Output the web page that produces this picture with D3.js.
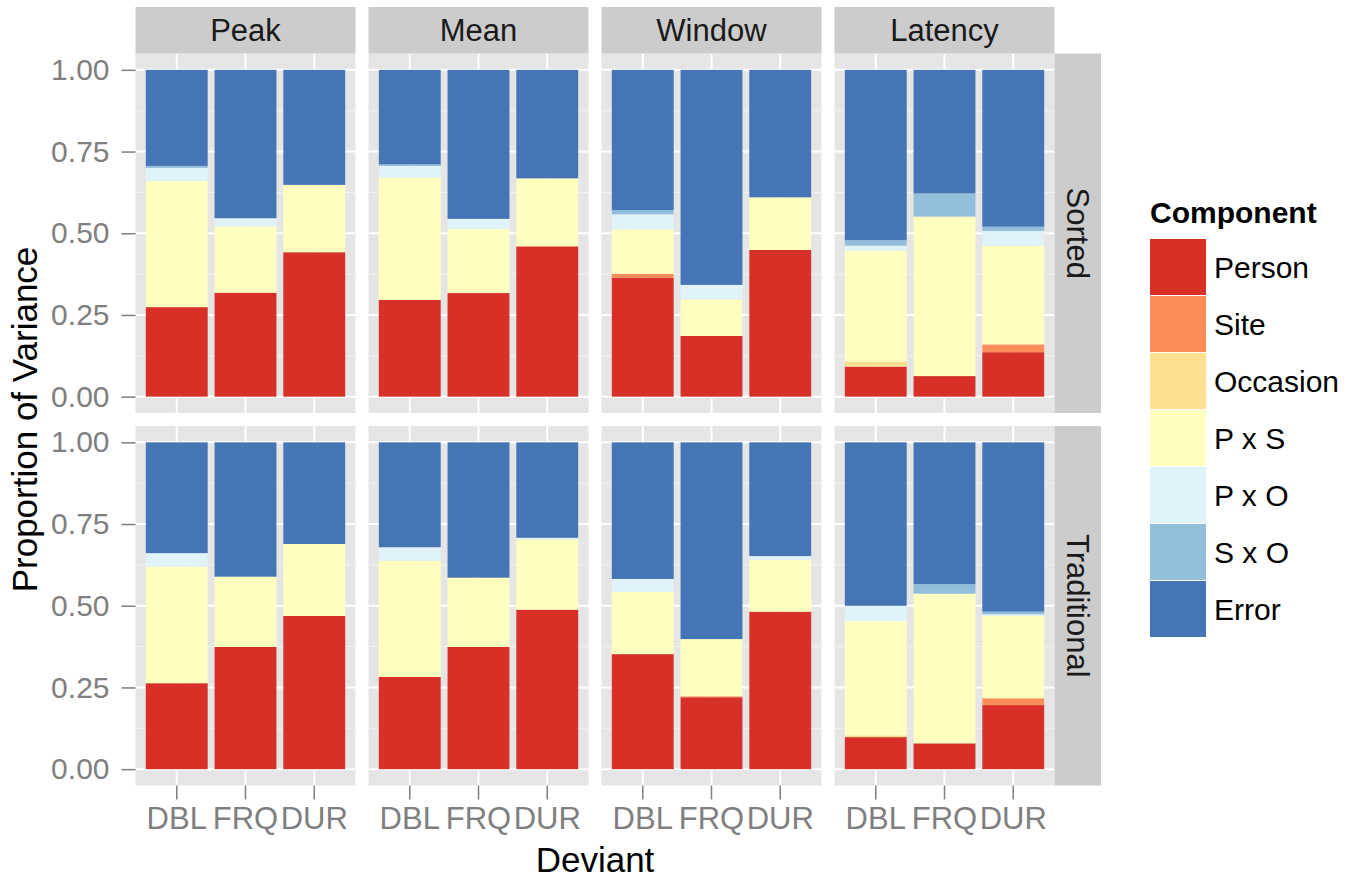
<!DOCTYPE html>
<html>
<head>
<meta charset="utf-8">
<script src="https://cdn.jsdelivr.net/npm/d3@7"></script>
<style>
  body { margin: 0; background: #fff; }
  svg text { font-family: "Liberation Sans", Arial, sans-serif; }
</style>
</head>
<body>
<svg class="chart" width="1360" height="880"></svg>
<script>
const measures = ['Peak', 'Mean', 'Window', 'Latency'];
const methods = ['Sorted', 'Traditional'];
const deviants = ['DBL', 'FRQ', 'DUR'];
const components = ['Person', 'Site', 'Occasion', 'P x S', 'P x O', 'S x O', 'Error'];
const palette = ['#d73027', '#fc8d59', '#fee090', '#ffffbf', '#e0f3f8', '#91bfdb', '#4575b4'];
const yTicks = [0, 0.25, 0.5, 0.75, 1];

// order: Sorted (Peak DBL FRQ DUR, Mean ..., Window ..., Latency ...), then Traditional
const person = [0.274, 0.318, 0.442, 0.296, 0.317, 0.460, 0.364, 0.186, 0.449, 0.092, 0.063, 0.136,
                0.263, 0.374, 0.469, 0.282, 0.374, 0.488, 0.352, 0.220, 0.482, 0.098, 0.079, 0.196];
const site = [0, 0, 0, 0, 0, 0, 0.012, 0, 0, 0, 0, 0.024,
              0, 0, 0, 0, 0, 0, 0, 0.003, 0, 0, 0, 0.021];
const occasion = [0, 0, 0, 0, 0, 0, 0, 0, 0, 0.015, 0, 0,
                  0, 0, 0, 0, 0, 0, 0, 0, 0, 0.005, 0, 0];
const pxs = [0.386, 0.203, 0.206, 0.374, 0.197, 0.208, 0.136, 0.112, 0.161, 0.339, 0.488, 0.302,
             0.357, 0.215, 0.220, 0.356, 0.212, 0.215, 0.190, 0.175, 0.158, 0.350, 0.458, 0.252];
const pxo = [0.040, 0.025, 0, 0.036, 0.030, 0, 0.046, 0.044, 0, 0.016, 0, 0.045,
             0.041, 0, 0, 0.041, 0, 0.005, 0.040, 0, 0.012, 0.047, 0, 0.005];
const sxo = [0.006, 0, 0, 0.005, 0, 0, 0.013, 0, 0, 0.017, 0.071, 0.013,
             0, 0, 0, 0, 0, 0, 0, 0, 0, 0, 0.029, 0.008];
const error = [0.294, 0.454, 0.352, 0.289, 0.456, 0.332, 0.429, 0.658, 0.390, 0.521, 0.378, 0.480,
               0.339, 0.411, 0.311, 0.321, 0.414, 0.292, 0.418, 0.602, 0.348, 0.500, 0.434, 0.518];

const series = [person, site, occasion, pxs, pxo, sxo, error];

const rows = [];
methods.forEach((method, mi) => {
    measures.forEach((measure, ki) => {
        deviants.forEach((dev, di) => {
            const idx = mi * 12 + ki * 3 + di;
            const row = {method: method, measure: measure, deviant: dev};
            components.forEach((c, ci) => { row[c] = series[ci][idx]; });
            rows.push(row);
        });
    });
});

const svg = d3.select('.chart');

const panelLeft = 135.5, panelW = 220, gapX = 13;
const panelTop = 53.5, panelH = 359.5, gapY = 13;
const stripH = 46.5, stripW = 46.5;

const color = d3.scaleOrdinal().domain(components).range(palette);
const stack = d3.stack().keys(components);

const x = d3.scaleBand()
    .domain(deviants)
    .range([0, panelW])
    .paddingInner(0.1)
    .paddingOuter(0.15);

const y = d3.scaleLinear()
    .domain([-0.05, 1.05])
    .range([panelH, 0]);

const minorTicks = [0.125, 0.375, 0.625, 0.875];

methods.forEach((method, mi) => {
    measures.forEach((measure, ki) => {
        const px = panelLeft + ki * (panelW + gapX);
        const py = panelTop + mi * (panelH + gapY);
        const g = svg.append('g').attr('transform', `translate(${px},${py})`);

        g.append('rect')
            .attr('width', panelW)
            .attr('height', panelH)
            .attr('fill', '#e5e5e5');

        g.selectAll('.minor')
            .data(minorTicks)
            .enter().append('line')
            .attr('x1', 0).attr('x2', panelW)
            .attr('y1', d => y(d)).attr('y2', d => y(d))
            .attr('stroke', '#f2f2f2')
            .attr('stroke-width', 1);

        g.selectAll('.major')
            .data(yTicks)
            .enter().append('line')
            .attr('x1', 0).attr('x2', panelW)
            .attr('y1', d => y(d)).attr('y2', d => y(d))
            .attr('stroke', '#fff')
            .attr('stroke-width', 2);

        g.selectAll('.vmajor')
            .data(deviants)
            .enter().append('line')
            .attr('x1', d => x(d) + x.bandwidth() / 2)
            .attr('x2', d => x(d) + x.bandwidth() / 2)
            .attr('y1', 0).attr('y2', panelH)
            .attr('stroke', '#fff')
            .attr('stroke-width', 2);

        const data = rows.filter(r => r.method === method && r.measure === measure);
        const layers = stack(data);

        g.selectAll('.layer')
            .data(layers)
            .enter().append('g')
            .attr('fill', d => color(d.key))
            .selectAll('rect')
            .data(d => d)
            .enter().append('rect')
            .attr('x', d => x(d.data.deviant))
            .attr('width', x.bandwidth())
            .attr('y', d => y(d[1]))
            .attr('height', d => y(d[0]) - y(d[1]));

        // top strips
        if (mi === 0) {
            svg.append('rect')
                .attr('x', px).attr('y', panelTop - stripH)
                .attr('width', panelW).attr('height', stripH)
                .attr('fill', '#cccccc');
            svg.append('text')
                .attr('x', px + panelW / 2)
                .attr('y', panelTop - stripH / 2)
                .attr('dy', '0.36em')
                .attr('text-anchor', 'middle')
                .attr('font-size', 31)
                .attr('fill', '#1a1a1a')
                .text(measure);
        }

        // y axis on the left column
        if (ki === 0) {
            const ya = g.append('g').call(d3.axisLeft(y).tickValues(yTicks).tickFormat(d3.format('.2f')).tickSize(14).tickPadding(12));
            ya.select('.domain').remove();
            ya.selectAll('line').attr('stroke', '#7f7f7f').attr('stroke-width', 1.5);
            ya.selectAll('text')
                .attr('font-size', 30)
                .attr('fill', '#7f7f7f')
                .style('font-family', '"Liberation Sans", Arial, sans-serif');
        }

        // x axis on the bottom row
        if (mi === methods.length - 1) {
            const xa = g.append('g')
                .attr('transform', `translate(0,${panelH})`)
                .call(d3.axisBottom(x).tickSize(14).tickPadding(7));
            xa.select('.domain').remove();
            xa.selectAll('line').attr('stroke', '#7f7f7f').attr('stroke-width', 1.5);
            xa.selectAll('text')
                .attr('font-size', 31)
                .attr('fill', '#7f7f7f')
                .style('font-family', '"Liberation Sans", Arial, sans-serif');
        }
    });

    // right strips
    const sx = panelLeft + measures.length * panelW + (measures.length - 1) * gapX;
    const sy = panelTop + mi * (panelH + gapY);
    svg.append('rect')
        .attr('x', sx).attr('y', sy)
        .attr('width', stripW).attr('height', panelH)
        .attr('fill', '#cccccc');
    svg.append('text')
        .attr('transform', `translate(${sx + stripW / 2},${sy + panelH / 2}) rotate(90)`)
        .attr('dy', '0.36em')
        .attr('text-anchor', 'middle')
        .attr('font-size', 31)
        .attr('fill', '#1a1a1a')
        .text(method);
});

// axis titles
svg.append('text')
    .attr('x', panelLeft + (measures.length * panelW + (measures.length - 1) * gapX) / 2)
    .attr('y', 872)
    .attr('text-anchor', 'middle')
    .attr('font-size', 35)
    .attr('fill', '#000')
    .text('Deviant');

svg.append('text')
    .attr('transform', `translate(37,${panelTop + panelH + gapY / 2}) rotate(-90)`)
    .attr('text-anchor', 'middle')
    .attr('font-size', 35)
    .attr('fill', '#000')
    .text('Proportion of Variance');

// legend
const legend = svg.append('g').attr('transform', 'translate(1150,0)');
legend.append('text')
    .attr('x', 0).attr('y', 223)
    .attr('font-size', 30)
    .attr('font-weight', 'bold')
    .text('Component');

const keys = legend.selectAll('.key')
    .data(components)
    .enter().append('g')
    .attr('transform', (d, i) => `translate(0,${239 + i * 57})`);

keys.append('rect')
    .attr('width', 56)
    .attr('height', 56)
    .attr('fill', d => color(d));

keys.append('text')
    .attr('x', 64)
    .attr('y', 28)
    .attr('dy', '0.36em')
    .attr('font-size', 30)
    .attr('fill', '#000')
    .text(d => d);
</script>
</body>
</html>
